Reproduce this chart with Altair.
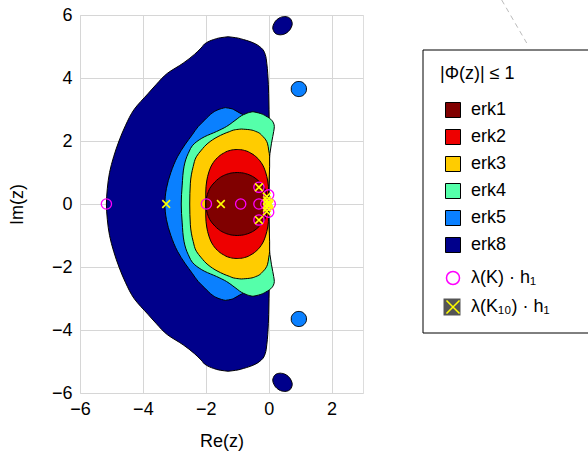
import altair as alt
import pandas as pd

# ---------------- data ----------------
METHODS = ["erk1", "erk2", "erk3", "erk4", "erk5", "erk8"]
COLORS = ["#800000", "#ee0000", "#ffcc00", "#55ffaa", "#0a80ff", "#00008b"]

# upper half of each stability region: y, left boundary x, right boundary x
erk8_y = [0.0, 0.5, 1.0, 1.5, 2.0, 2.5, 3.0, 3.5, 3.8, 4.15, 4.47, 4.75, 4.95, 5.12, 5.22, 5.28, 5.31]
erk8_xl = [-5.16, -5.13, -5.06, -4.93, -4.76, -4.55, -4.28, -3.84, -3.57, -3.22, -2.72, -2.36, -2.15, -1.98, -1.75, -1.52, -1.29]
erk8_xr = [0.0, 0.01, 0.02, 0.02, 0.02, 0.02, 0.01, 0.0, -0.01, -0.03, -0.06, -0.11, -0.23, -0.50, -0.80, -1.05, -1.29]

erk8_isl_y = [5.37, 5.38, 5.40, 5.44, 5.51, 5.59, 5.66, 5.73, 5.81, 5.88, 5.92, 5.94, 5.95]
erk8_isl_xl = [0.37, 0.29, 0.24, 0.19, 0.15, 0.13, 0.14, 0.17, 0.22, 0.30, 0.37, 0.43, 0.51]
erk8_isl_xr = [0.37, 0.45, 0.51, 0.58, 0.66, 0.71, 0.74, 0.75, 0.73, 0.69, 0.64, 0.59, 0.51]

erk5_y = [0.0, 0.5, 1.0, 1.5, 1.9, 2.2, 2.46, 2.67, 2.80, 2.90, 2.98, 3.03, 3.06]
erk5_xl = [-3.30, -3.25, -3.11, -2.90, -2.65, -2.43, -2.24, -2.03, -1.90, -1.78, -1.64, -1.50, -1.38]
erk5_xr = [-0.5, -0.5, -0.5, -0.5, -0.5, -0.5, -0.5, -0.6, -0.75, -0.94, -1.08, -1.20, -1.38]

erk5_isl_y = [3.41, 3.415, 3.43, 3.47, 3.53, 3.60, 3.65, 3.70, 3.77, 3.83, 3.87, 3.885, 3.89]
erk5_isl_xl = [0.96, 0.91, 0.86, 0.80, 0.75, 0.72, 0.72, 0.72, 0.75, 0.80, 0.86, 0.91, 0.96]
erk5_isl_xr = [0.96, 1.01, 1.06, 1.12, 1.17, 1.20, 1.20, 1.20, 1.17, 1.12, 1.06, 1.01, 0.96]

erk4_y = [0.0, 0.6, 1.2, 1.6, 1.93, 2.14, 2.30, 2.46, 2.60, 2.72, 2.80, 2.87, 2.91, 2.93]
erk4_xl = [-2.78, -2.75, -2.69, -2.56, -2.35, -2.03, -1.66, -1.34, -1.14, -0.98, -0.87, -0.72, -0.60, -0.50]
erk4_xr = [0.0, 0.0, 0.01, 0.04, 0.09, 0.13, 0.16, 0.18, 0.14, 0.03, -0.10, -0.25, -0.40, -0.50]

erk3_y = [0.0, 0.66, 1.19, 1.50, 1.71, 1.93, 2.14, 2.30, 2.36, 2.38]
erk3_xl = [-2.51, -2.49, -2.40, -2.30, -2.14, -1.93, -1.61, -1.24, -1.05, -0.87]
erk3_xr = [0.0, 0.01, 0.03, 0.03, 0.0, -0.04, -0.18, -0.40, -0.62, -0.87]

erk2_y = [0.0, 0.38, 0.73, 1.02, 1.27, 1.47, 1.61, 1.70, 1.723, 1.73]
erk2_xl = [-2.0, -2.0, -1.97, -1.90, -1.79, -1.63, -1.44, -1.23, -1.12, -1.0]
erk2_xr = [0.0, 0.0, -0.03, -0.10, -0.21, -0.37, -0.56, -0.77, -0.88, -1.0]

erk1_y = [0.0, 0.3, 0.5, 0.7, 0.8, 0.9, 0.96, 0.99, 1.0]
erk1_xl = [-2.0, -1.95, -1.87, -1.71, -1.60, -1.44, -1.28, -1.14, -1.0]
erk1_xr = [0.0, -0.05, -0.13, -0.29, -0.40, -0.56, -0.72, -0.86, -1.0]

# eigenvalues
circ_x = [-5.16, -1.98, -0.89, -0.31, -0.31, -0.31, 0.0, 0.0, -0.09, 0.05]
circ_y = [0.0, 0.0, 0.0, 0.0, 0.53, -0.51, 0.29, -0.26, 0.0, 0.0]
cross_x = [-3.26, -1.52, -0.31, -0.31, -0.06, -0.06, -0.04, 0.0, 0.0, 0.03, -0.05, -0.05]
cross_y = [0.0, 0.0, 0.53, -0.51, 0.24, -0.24, 0.0, 0.05, -0.05, 0.0, 0.12, -0.12]

KINDS = ["λ(K) · h₁", "λ(K₁₀) · h₁"]

# ---------------- build tables ----------------
def mirrored(ys, xls, xrs):
    Y = [-v for v in ys[::-1]] + ys[1:]
    XL = xls[::-1] + xls[1:]
    XR = xrs[::-1] + xrs[1:]
    return Y, XL, XR

rows = []
def add(piece, method, Y, XL, XR):
    for i, (a, b, c) in enumerate(zip(Y, XL, XR)):
        rows.append({"piece": piece, "method": method, "y": a, "xl": b, "xr": c, "ord": i})

add("erk8", "erk8", *mirrored(erk8_y, erk8_xl, erk8_xr))
add("erk8_top", "erk8", erk8_isl_y, erk8_isl_xl, erk8_isl_xr)
add("erk8_bot", "erk8", [-v for v in erk8_isl_y[::-1]], erk8_isl_xl[::-1], erk8_isl_xr[::-1])
add("erk5", "erk5", *mirrored(erk5_y, erk5_xl, erk5_xr))
add("erk5_top", "erk5", erk5_isl_y, erk5_isl_xl, erk5_isl_xr)
add("erk5_bot", "erk5", [-v for v in erk5_isl_y[::-1]], erk5_isl_xl[::-1], erk5_isl_xr[::-1])
add("erk4", "erk4", *mirrored(erk4_y, erk4_xl, erk4_xr))
add("erk3", "erk3", *mirrored(erk3_y, erk3_xl, erk3_xr))
add("erk2", "erk2", *mirrored(erk2_y, erk2_xl, erk2_xr))
add("erk1", "erk1", *mirrored(erk1_y, erk1_xl, erk1_xr))
regions = pd.DataFrame(rows)
piece_order = ["erk8", "erk8_top", "erk8_bot", "erk5", "erk5_top", "erk5_bot", "erk4", "erk3", "erk2", "erk1"]

circles = pd.DataFrame({"x": circ_x, "y": circ_y, "kind": KINDS[0]})
crosses = pd.DataFrame({"x": cross_x, "y": cross_y, "kind": KINDS[1]})

# ---------------- encodings ----------------
FS = 18
xscale = alt.Scale(domain=[-6, 3], nice=False, zero=False)
yscale = alt.Scale(domain=[-6, 6], nice=False, zero=False)
xaxis = alt.Axis(values=[-6, -4, -2, 0, 2], grid=True, gridColor="#d6d6d6", ticks=False, domain=False,
                 labelFontSize=FS, titleFontSize=FS, labelPadding=7, titlePadding=14,
                 titleFontWeight="normal", labelColor="black", titleColor="black",
                 labelFlush=False, labelOverlap=False)
yaxis = alt.Axis(values=[-6, -4, -2, 0, 2, 4, 6], grid=True, gridColor="#d6d6d6", ticks=False, domain=False,
                 labelFontSize=FS, titleFontSize=FS, labelPadding=8, titlePadding=25,
                 titleFontWeight="normal", labelColor="black", titleColor="black",
                 labelFlush=False, labelOverlap=False)

fill_legend = alt.Legend(orient="none", legendX=360, legendY=50, title="|Φ(z)| ≤ 1",
                         titleFontSize=FS, titleFontWeight="normal", titleColor="black",
                         titlePadding=18, labelFontSize=FS, labelColor="black",
                         symbolType="square", symbolSize=225, symbolStrokeColor="black",
                         symbolStrokeWidth=1, symbolOffset=4, labelOffset=9, rowPadding=7)
fill_scale = alt.Scale(domain=METHODS, range=COLORS)

pt_legend = alt.Legend(orient="none", legendX=360, legendY=254, title=None,
                       labelFontSize=FS, labelColor="black", symbolSize=170,
                       symbolStrokeWidth=1.5, symbolOffset=4, labelOffset=9, rowPadding=9)
stroke_scale = alt.Scale(domain=KINDS, range=["#ff00ff", "#ffff00"])
shape_scale = alt.Scale(domain=KINDS, range=["circle", "M-1,-1L1,1M-1,1L1,-1"])

layers = []

one = pd.DataFrame({"a": [0]})
# legend frame (box runs past the right edge of the page)
layers.append(alt.Chart(one).mark_rect(fill="white", stroke="black", strokeWidth=1).encode(
    x=alt.value(343), x2=alt.value(640), y=alt.value(35), y2=alt.value(318)))
# dark square behind the cross legend symbol
layers.append(alt.Chart(one).mark_rect(fill="#555555").encode(
    x=alt.value(363.5), x2=alt.value(380.5), y=alt.value(283.5), y2=alt.value(300.5)))
# dashed guide line at top right
layers.append(alt.Chart(one).mark_rule(stroke="#bbbbbb", strokeDash=[5, 4], strokeWidth=1).encode(
    x=alt.value(421.7), x2=alt.value(446.7), y=alt.value(-15), y2=alt.value(28)))

for p in piece_order:
    layers.append(
        alt.Chart(regions).transform_filter(alt.datum.piece == p)
        .mark_area(orient="horizontal", interpolate="monotone", stroke="black", strokeWidth=1)
        .encode(
            y=alt.Y("y:Q", scale=yscale, axis=yaxis, title="Im(z)"),
            x=alt.X("xl:Q", scale=xscale, axis=xaxis, title="Re(z)", stack=None),
            x2="xr:Q",
            fill=alt.Fill("method:N", scale=fill_scale, legend=fill_legend),
        )
    )

for dfp, size, sw in [(circles, 105, 1.3), (crosses, 60, 1.6)]:
    layers.append(
        alt.Chart(dfp).mark_point(filled=False, size=size, strokeWidth=sw, opacity=1)
        .encode(
            x=alt.X("x:Q", scale=xscale, axis=xaxis, title="Re(z)"),
            y=alt.Y("y:Q", scale=yscale, axis=yaxis, title="Im(z)"),
            stroke=alt.Stroke("kind:N", scale=stroke_scale, legend=pt_legend),
            shape=alt.Shape("kind:N", scale=shape_scale, legend=pt_legend),
        )
    )

chart = (
    alt.layer(*layers)
    .properties(width=283, height=378, autosize=alt.AutoSizeParams(type="none"),
                padding={"left": 80, "top": 15, "right": 225, "bottom": 58})
    .configure_view(stroke="black", strokeWidth=1)
    .configure(font="Liberation Sans")
)

chart.save("out.html", embed_options={"renderer": "svg", "actions": False})
